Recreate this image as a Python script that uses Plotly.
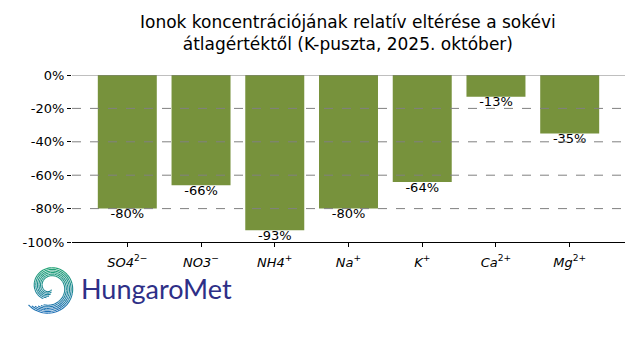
import numpy as np
import plotly.graph_objects as go

categories = ["<i>SO4</i><sup>2−</sup>", "<i>NO3</i><sup>−</sup>", "<i>NH4</i><sup>+</sup>",
              "<i>Na</i><sup>+</sup>", "<i>K</i><sup>+</sup>", "<i>Ca</i><sup>2+</sup>", "<i>Mg</i><sup>2+</sup>"]
values = [-80, -66, -93, -80, -64, -13, -35]
labels = [f"{v}%" for v in values]
yticks = [0, -20, -40, -60, -80, -100]
yticklabels = [f"{t}%" for t in yticks]

# plot area in pixels
L, R, T, B = 72, 625, 75, 242
def px2paper(px, py):
    return (px - L) / (R - L), (B - py) / (B - T)

x = list(range(len(categories)))
fig = go.Figure()
fig.add_trace(go.Bar(x=x, y=values, marker_color="#77923c", width=0.8,
                     marker_line_width=0, showlegend=False))
fig.add_trace(go.Scatter(x=x, y=values, mode="text", text=labels,
                         textposition="bottom center",
                         textfont=dict(size=13, color="black", family="DejaVu Sans"),
                         showlegend=False, cliponaxis=False))

for t in yticks[1:-1]:
    fig.add_shape(type="line", xref="paper", x0=0, x1=1, y0=t, y1=t,
                  line=dict(color="gray", width=1, dash="dash"), layer="above")
fig.add_shape(type="line", xref="paper", x0=0, x1=1, y0=0, y1=0,
              line=dict(color="gray", width=1), layer="above")

# logo spiral (decorative)
cx, cy = 50, 287
c_top = np.array([0x22, 0xa8, 0x6e])
c_bot = np.array([0x1d, 0x6f, 0xb5])
def col_at(py):
    f = np.clip((py - 264) / (311 - 264), 0, 1)
    c = c_top * (1 - f) + c_bot * f
    return "rgb(%d,%d,%d)" % tuple(c.astype(int))

for k, off in enumerate(np.linspace(-4, 4, 6)):
    psi = np.deg2rad(np.linspace(60 + k * 12, 500 - (5 - k) * 6, 90))
    rr = 7 + (np.rad2deg(psi) - 60) / 440 * 17 + off
    rr = np.maximum(rr, 3)
    pxs = cx + rr * np.cos(psi)
    pys = cy + rr * np.sin(psi)
    for s in range(0, len(psi) - 1, 6):
        e = min(s + 7, len(psi))
        pts = [px2paper(a, b) for a, b in zip(pxs[s:e], pys[s:e])]
        path = "M " + " L ".join(f"{a:.4f},{b:.4f}" for a, b in pts)
        fig.add_shape(type="path", xref="paper", yref="paper", path=path,
                      line=dict(color=col_at(pys[s:e].mean()), width=1.1), layer="above")

lx, ly = px2paper(79, 288)
tx, ty = px2paper(348, 33)
fig.update_layout(
    width=640, height=360,
    margin=dict(l=L, r=640 - R, t=T, b=360 - B),
    plot_bgcolor="white", paper_bgcolor="white",
    font=dict(family="DejaVu Sans", color="black", size=13),
    xaxis=dict(range=[-0.75, 6.75], tickvals=x, ticktext=categories,
               ticks="outside", ticklen=4, tickcolor="black",
               showline=True, linecolor="black", linewidth=1,
               showgrid=False, zeroline=False, tickfont=dict(size=13),
               ticklabelstandoff=4),
    yaxis=dict(range=[-100, 0], tickvals=yticks, ticktext=yticklabels,
               ticks="outside", ticklen=4, tickcolor="black",
               showline=False, showgrid=False, zeroline=False,
               tickfont=dict(size=13)),
    annotations=[
        dict(text="HungaroMet", xref="paper", yref="paper",
             x=lx, y=ly, xanchor="left", yanchor="middle",
             showarrow=False, font=dict(size=27, color="#2e2f87", family="Lato")),
        dict(text="Ionok koncentrációjának relatív eltérése a sokévi<br>átlagértéktől (K-puszta, 2025. október)",
             xref="paper", yref="paper", x=tx, y=ty, xanchor="center", yanchor="middle",
             showarrow=False, align="center",
             font=dict(size=17, color="black", family="DejaVu Sans")),
    ],
)

fig.write_html("out.html")
